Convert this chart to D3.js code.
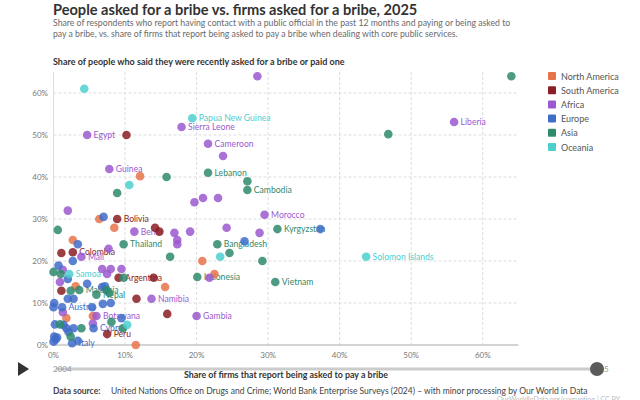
<!DOCTYPE html>
<html>
<head>
<meta charset="utf-8">
<script src="https://cdn.jsdelivr.net/npm/d3@7"></script>
<style>
  body { margin: 0; background: #fff; }
  svg { font-family: Lato, "Noto Sans", sans-serif; }
</style>
</head>
<body>
<svg id="chart" width="640" height="400"></svg>
<script>
// values in percent: [firms asked for a bribe, people asked for a bribe, label]
const northAmerica = [
  [6.4, 30], [8.5, 27.9], [12.1, 40.2], [2.7, 25], [20.8, 20], [22.5, 16.9],
  [15.6, 13.8], [3.1, 14], [1.8, 6.4], [5.5, 6.9], [11.5, 0]
];
const southAmerica = [
  [10.2, 50], [8.9, 30, 'Bolivia'], [14.2, 27.9], [14.8, 27], [1.1, 21.9],
  [2.7, 22.1, 'Colombia'], [9.1, 16, 'Argentina'], [14.0, 16], [1.1, 12.9],
  [11.6, 11], [15.9, 7.4], [7.5, 2.6, 'Peru']
];
const africa = [
  [28.5, 64], [4.7, 50, 'Egypt'], [17.9, 51.9, 'Sierra Leone'], [21.6, 47.9, 'Cameroon'],
  [23.7, 45], [7.8, 41.9, 'Guinea'], [19.7, 34], [20.9, 35], [23.0, 35], [2.0, 32],
  [56.0, 53.1, 'Liberia'], [29.5, 31, 'Morocco'], [11.3, 27, 'Benin'], [16.9, 26.7],
  [19.1, 27], [24.2, 27.9], [28.8, 26.7], [17.3, 25], [17.3, 24], [7.7, 22.9],
  [3.9, 21, 'Mali'], [1.3, 17.9], [6.8, 18.1], [8.0, 18.1], [9.5, 18.1], [7.5, 16.9],
  [21.8, 16], [0.9, 15], [13.7, 11, 'Namibia'], [1.3, 7.8], [6.0, 6.9, 'Botswana'],
  [20.0, 6.9, 'Gambia'], [5.5, 5.1]
];
const europe = [
  [7.0, 30.5], [3.4, 24], [26.7, 24.7], [37.3, 27.6], [2.7, 20], [0.7, 18.9],
  [2.0, 15.7], [4.7, 14.6], [6.8, 13.8], [7.2, 14], [2.0, 11], [2.8, 11], [6.9, 9.8],
  [8.0, 10], [0.1, 10], [0, 9], [1.2, 9, 'Austria'], [5.4, 9], [9.5, 6.4], [0.2, 4.9],
  [1.4, 4.8], [1.8, 4], [2.8, 4], [5.6, 4, 'Cyprus'], [2.1, 3.1], [2.6, 0.4, 'Italy'],
  [3.4, 1], [0.1, 2], [0.5, 1.8], [0, 0.8], [0.3, 1.3]
];
const asia = [
  [64, 64], [46.8, 50.2], [15.8, 40], [21.6, 41, 'Lebanon'], [27.1, 39],
  [27.1, 36.9, 'Cambodia'], [8.9, 36.2], [0.6, 27.4], [9.8, 24, 'Thailand'],
  [22.9, 24, 'Bangladesh'], [24.6, 21.9], [16.3, 21], [29.2, 20], [31.3, 27.6, 'Kyrgyzstan'],
  [31.0, 15, 'Vietnam'], [0, 17.4], [1.0, 16.9], [9.8, 16], [20.1, 16.2, 'Indonesia'],
  [2.4, 12.9], [3.6, 13.1, 'Malaysia'], [6.0, 12.0, 'Nepal'], [7.4, 13.1], [7.8, 12.4],
  [8.1, 5.5], [9.7, 4], [0.9, 4.9], [3.9, 4], [2.4, 2]
];
const oceania = [
  [4.3, 61], [19.4, 54, 'Papua New Guinea'], [10.6, 38.1], [23.3, 21],
  [2.2, 16.9, 'Samoa'], [43.7, 21, 'Solomon Islands'], [10.3, 4.8]
];

const continents = ['North America', 'South America', 'Africa', 'Europe', 'Asia', 'Oceania'];
const continentData = [northAmerica, southAmerica, africa, europe, asia, oceania];
const colors = ['#e8734a', '#8b1d24', '#9b59d0', '#3f6cc9', '#2f8a6e', '#4ccfcf'];
const axisTicks = [0, 10, 20, 30, 40, 50, 60];

const svg = d3.select('#chart');

const x = d3.scaleLinear().domain([0, 65]).range([53.5, 518.5]);
const y = d3.scaleLinear().domain([0, 65]).range([345, 72]);
const color = d3.scaleOrdinal().domain(continents).range(colors);

const points = [];
continentData.forEach((list, i) => {
  list.forEach((d) => points.push({ continent: continents[i], firms: d[0], people: d[1], name: d[2] }));
});

// header
svg.append('text').text('People asked for a bribe vs. firms asked for a bribe, 2025')
  .attr('x', 53).attr('y', 14.5).attr('font-size', 14.6).attr('font-weight', 700).attr('fill', '#333');
const sub = svg.append('text').attr('font-size', 8.7).attr('fill', '#6a6a6a');
sub.append('tspan').attr('x', 53).attr('y', 25.5)
  .text('Share of respondents who report having contact with a public official in the past 12 months and paying or being asked to');
sub.append('tspan').attr('x', 53).attr('y', 36.5)
  .text('pay a bribe, vs. share of firms that report being asked to pay a bribe when dealing with core public services.');

svg.append('text').text('Share of people who said they were recently asked for a bribe or paid one')
  .attr('x', 53).attr('y', 65).attr('font-size', 9).attr('font-weight', 700).attr('fill', '#333');

// grid
const grid = svg.append('g');
grid.selectAll('.hg').data(axisTicks.slice(1)).join('line')
  .attr('x1', x(0)).attr('x2', x(65)).attr('y1', (d) => y(d)).attr('y2', (d) => y(d))
  .attr('stroke', '#ddd').attr('stroke-dasharray', '3,2');
grid.selectAll('.vg').data(axisTicks.slice(1)).join('line')
  .attr('y1', y(0)).attr('y2', y(65)).attr('x1', (d) => x(d)).attr('x2', (d) => x(d))
  .attr('stroke', '#ddd').attr('stroke-dasharray', '3,2');
svg.append('line').attr('x1', x(0)).attr('x2', x(0)).attr('y1', y(0)).attr('y2', y(65)).attr('stroke', '#ddd');
svg.append('line').attr('x1', x(0)).attr('x2', x(65)).attr('y1', y(0)).attr('y2', y(0)).attr('stroke', '#aaa');

// axes labels
svg.append('g').selectAll('text').data(axisTicks).join('text')
  .text((d) => `${d}%`).attr('x', 48).attr('y', (d) => y(d) + 3)
  .attr('text-anchor', 'end').attr('font-size', 8).attr('fill', '#777');
svg.append('g').selectAll('text').data(axisTicks).join('text')
  .text((d) => `${d}%`).attr('x', (d) => x(d)).attr('y', 358)
  .attr('text-anchor', 'middle').attr('font-size', 8).attr('fill', '#777');

// labels under points
svg.append('g').selectAll('text').data(points.filter((d) => d.name)).join('text')
  .text((d) => d.name).attr('x', (d) => x(d.firms) + 6.5).attr('y', (d) => y(d.people) + 3)
  .attr('font-size', 8.6).attr('fill', (d) => color(d.continent));

svg.append('g').selectAll('circle').data(points).join('circle')
  .attr('cx', (d) => x(d.firms)).attr('cy', (d) => y(d.people)).attr('r', 4.3)
  .attr('fill', (d) => color(d.continent)).attr('opacity', 0.85);

// legend
const legend = svg.append('g');
legend.selectAll('rect').data(continents).join('rect')
  .attr('x', 548).attr('y', (d, i) => 72 + i * 14.2).attr('width', 8).attr('height', 8).attr('rx', 1)
  .attr('fill', (d) => color(d));
legend.selectAll('text').data(continents).join('text')
  .text((d) => d).attr('x', 561).attr('y', (d, i) => 79.5 + i * 14.2)
  .attr('font-size', 9).attr('fill', '#555');

// timeline
svg.append('path').attr('d', 'M18,362 L18,376 L29,369 Z').attr('fill', '#333');
svg.append('line').attr('x1', 56).attr('x2', 597).attr('y1', 369).attr('y2', 369)
  .attr('stroke', '#ccc').attr('stroke-width', 3);
svg.append('text').text('2004').attr('x', 53).attr('y', 372).attr('font-size', 8).attr('fill', '#999');
svg.append('text').text('2025').attr('x', 590).attr('y', 372).attr('font-size', 8).attr('fill', '#999');
svg.append('circle').attr('cx', 597).attr('cy', 369).attr('r', 7).attr('fill', '#5b5b5b');

svg.append('text').text('Share of firms that report being asked to pay a bribe')
  .attr('x', x(32.5)).attr('y', 378).attr('text-anchor', 'middle')
  .attr('font-size', 8.9).attr('font-weight', 700).attr('fill', '#333');

// footer
const foot = svg.append('text').attr('x', 53).attr('y', 394).attr('font-size', 8.5).attr('fill', '#444');
foot.append('tspan').text('Data source:').attr('font-weight', 700);
foot.append('tspan').attr('x', 111)
  .text('United Nations Office on Drugs and Crime; World Bank Enterprise Surveys (2024) – with minor processing by Our World in Data');
svg.append('text').text('OurWorldInData.org/corruption | CC BY').attr('x', 497).attr('y', 402)
  .attr('font-size', 7).attr('fill', '#bbb');
</script>
</body>
</html>
